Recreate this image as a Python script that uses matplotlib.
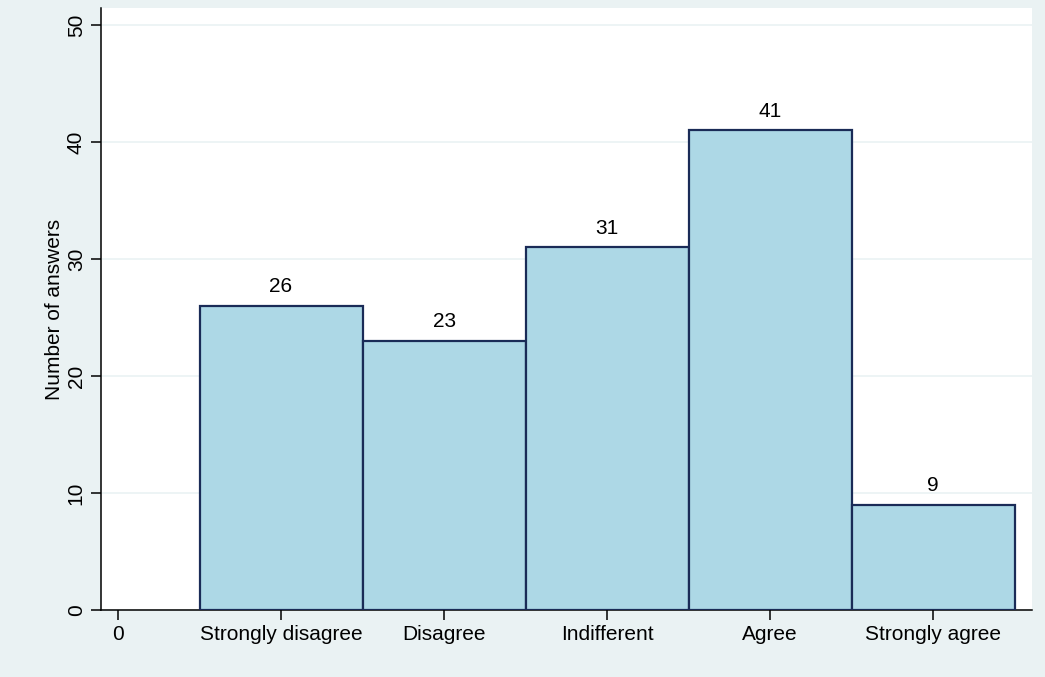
import numpy as np
import matplotlib
matplotlib.use("Agg")
import matplotlib.pyplot as plt

categories = ["Strongly disagree", "Disagree", "Indifferent", "Agree", "Strongly agree"]
answers = [26, 23, 31, 41, 9]
positions = [1, 2, 3, 4, 5]
yticks = [0, 10, 20, 30, 40, 50]

plt.rcParams['font.family'] = ['Liberation Sans', 'DejaVu Sans']

bg = "#eaf2f3"
fig = plt.figure(figsize=(10.45, 6.77), dpi=100, facecolor=bg)
ax = fig.add_axes([0.0967, 0.099, 0.891, 0.889])
ax.set_facecolor("white")

bars = ax.bar(positions, answers, width=1.0, color="#add8e6",
              edgecolor="#1a2b57", linewidth=1.6, zorder=3)
for p, v in zip(positions, answers):
    ax.annotate(str(v), (p, v), xytext=(0, 7), textcoords="offset points",
                ha="center", va="bottom", fontsize=15)

ax.set_xlim(-0.104, 5.607)
ax.set_ylim(0, 51.45)
ax.set_xticks([0] + positions)
ax.set_xticklabels(["0"] + categories, fontsize=15)
ax.set_yticks(yticks)
ax.set_yticklabels([str(t) for t in yticks], fontsize=15, rotation=90, va="center")
ax.yaxis.grid(True, color=bg, linewidth=1.2, zorder=0)
ax.set_axisbelow(True)
ax.tick_params(length=7, width=1.1, color="black")
ax.tick_params(axis="x", pad=4)
ax.tick_params(axis="y", pad=4)
ax.set_ylabel("Number of answers", fontsize=15, labelpad=2)

for s in ["top", "right"]:
    ax.spines[s].set_visible(False)
for s in ["left", "bottom"]:
    ax.spines[s].set_linewidth(1.1)

fig.savefig("out.png", dpi=100, facecolor=bg)
